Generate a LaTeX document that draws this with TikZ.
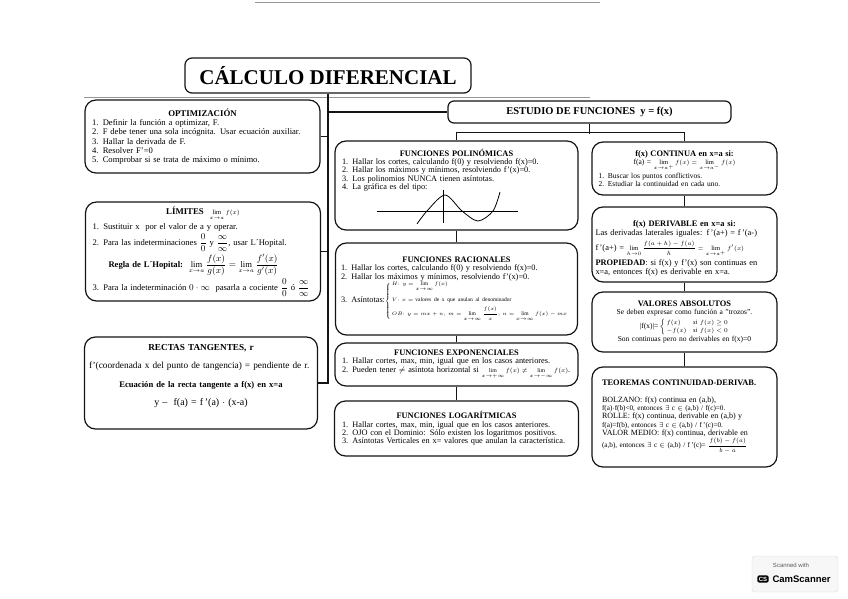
\documentclass[tikz,border=0pt]{standalone}
\usepackage{amsmath}
\usepackage{fontspec}
\setmainfont{Liberation Serif}
\newfontfamily\scanfont{Liberation Sans}
\usepackage{xcolor}
\definecolor{InkBlack}{RGB}{20,20,20}
\definecolor{ScanEdge}{RGB}{150,150,150}
\definecolor{MarkGray}{RGB}{90,90,90}
\newcommand{\ctr}[1]{\makebox[\linewidth]{#1}}
\newcommand{\hd}[1]{{\fontsize{8.4}{9}\selectfont\bfseries #1}}
\newcommand{\sm}[1]{{\fontsize{6.5}{7}\selectfont #1}}
\newcommand{\limsub}[1]{\lim\limits_{\rule{0pt}{4.2pt}#1}}
\tikzset{
  mapbox/.style={draw=InkBlack,line width=1.2pt,rounded corners=11pt,inner sep=0pt,align=left,
    font=\rmfamily\fontsize{8.6}{9.3}\selectfont},
  headbox/.style={draw=InkBlack,line width=1.2pt,rounded corners=6pt,inner sep=0pt,align=center},
  link/.style={draw=InkBlack,line width=1.5pt},
  scanedge/.style={draw=ScanEdge,line width=0.8pt}
}

\begin{document}
\begin{tikzpicture}[x=1pt,y=-1pt]
  \useasboundingbox (0,0) rectangle (848,599);
  % edges of the scanned sheet
  \draw[scanedge] (255,2) -- (600,2);
  \draw[scanedge] (84,97) -- (590,97);
  % title
  \node[headbox,rounded corners=7pt,minimum width=286pt,minimum height=35pt,
        font=\rmfamily\fontsize{21}{24}\selectfont\bfseries] (title) at (328,75.5) {CÁLCULO DIFERENCIAL};
  % estudio de funciones
  \node[headbox,minimum width=283pt,minimum height=22pt,
        font=\rmfamily\fontsize{10.5}{12}\selectfont\bfseries] (estudio) at (589.5,112) {ESTUDIO DE FUNCIONES\ \ y = f(x)};

  % left column
  \node[mapbox,minimum width=235pt,minimum height=73pt,text width=221pt] (optim) at (202.5,136.5) {
    \ctr{{\fontsize{8.8}{9}\selectfont\bfseries OPTIMIZACIÓN}}\\
    1. Definir la función a optimizar, F.\\
    2. F debe tener una sola incógnita. Usar ecuación auxiliar.\\
    3. Hallar la derivada de F.\\
    4. Resolver F'=0\\
    5. Comprobar si se trata de máximo o mínimo.
  };
  \node[mapbox,minimum width=235pt,minimum height=99pt,text width=221pt] (limites) at (203,251.5) {
    \ctr{{\fontsize{8.8}{9}\selectfont\bfseries LÍMITES}\ \ \sm{$\limsub{x\to a} f(x)$}}\\[2pt]
    1. Sustituir x\ \ por el valor de a y operar.\\[1pt]
    2. Para las indeterminaciones $\dfrac{0}{0}$ y $\dfrac{\infty}{\infty}$, usar L´Hopital.\\[2pt]
    \hspace*{16pt}\textbf{Regla de L´Hopital:}\ \ $\lim\limits_{x\to a}\dfrac{f(x)}{g(x)}=\lim\limits_{x\to a}\dfrac{f'(x)}{g'(x)}$\\[2pt]
    3. Para la indeterminación $0\cdot\infty$\ \ pasarla a cociente $\dfrac{0}{0}$ ó $\dfrac{\infty}{\infty}$
  };
  \node[mapbox,minimum width=233pt,minimum height=92pt,text width=224pt,
        font=\rmfamily\fontsize{9.3}{10.5}\selectfont] (rectas) at (201,383) {
    \ctr{{\fontsize{9.2}{10}\selectfont\bfseries RECTAS TANGENTES, r}}\\[8pt]
    f'(coordenada x del punto de tangencia) = pendiente de r.\\[8pt]
    \ctr{{\fontsize{8.6}{10}\selectfont\bfseries Ecuación de la recta tangente a f(x) en x=a}}\\[8pt]
    \ctr{\fontsize{10}{11}\selectfont y --\ \ f(a) = f\,'(a) $\cdot$ (x-a)\rule[-16pt]{0pt}{16pt}}
  };

  % middle column
  \node[mapbox,minimum width=243pt,minimum height=89pt,text width=229pt,
        font=\rmfamily\fontsize{8.3}{8.3}\selectfont] (polin) at (456.5,185.5) {
    \ctr{\hd{FUNCIONES POLINÓMICAS}}\\
    1. Hallar los cortes, calculando f(0) y resolviendo f(x)=0.\\
    2. Hallar los máximos y mínimos, resolviendo f'(x)=0.\\
    3. Los polinomios NUNCA tienen asíntotas.\\
    4. La gráfica es del tipo:\\
    \rule{0pt}{30pt}
  };
  \node[mapbox,minimum width=242pt,minimum height=92pt,text width=231pt,
        font=\rmfamily\fontsize{8.3}{8.6}\selectfont] (racion) at (456.5,289) {
    \ctr{\hd{FUNCIONES RACIONALES}}\\
    1. Hallar los cortes, calculando f(0) y resolviendo f(x)=0.\\
    2. Hallar los máximos y mínimos, resolviendo f'(x)=0.\\[-1pt]
    \mbox{3. Asíntotas:{\fontsize{5.5}{6.5}\selectfont$\left\{\,\begin{array}{@{}l@{}}
      H{:}\ y=\limsub{x\to\infty} f(x)\\[9pt]
      V{:}\ x=\text{valores de x que anulan al denominador}\\[4pt]
      OB{:}\ y=mx+n,\,m=\limsub{x\to\infty}\dfrac{f(x)}{x};\,n=\limsub{x\to\infty} f(x)-mx
    \end{array}\right.$}}
  };
  \node[mapbox,minimum width=243pt,minimum height=43pt,text width=229pt,
        font=\rmfamily\fontsize{8.3}{8.6}\selectfont] (expon) at (456.5,364.5) {
    \ctr{\hd{FUNCIONES EXPONENCIALES}}\\
    1. Hallar cortes, max, min, igual que en los casos anteriores.\\
    \mbox{2. Pueden tener $\neq$ asíntota horizontal si {\fontsize{5.8}{7}\selectfont$\limsub{x\to+\infty} f(x)\neq\limsub{x\to-\infty} f(x)$}.}
  };
  \node[mapbox,minimum width=244pt,minimum height=55pt,text width=229pt,
        font=\rmfamily\fontsize{8.3}{8.3}\selectfont] (logar) at (456.5,428.5) {
    \ctr{\hd{FUNCIONES LOGARÍTMICAS}}\\
    1. Hallar cortes, max, min, igual que en los casos anteriores.\\
    2. OJO con el Dominio: Sólo existen los logaritmos positivos.\\
    3. Asíntotas Verticales en x= valores que anulan la característica.
  };

  % right column
  \node[mapbox,minimum width=185pt,minimum height=53pt,text width=172pt,
        font=\rmfamily\fontsize{7.5}{7.8}\selectfont] (contin) at (684.5,168.5) {
    \ctr{\hd{f(x) CONTINUA en x=a si:}}\\
    \ctr{f(a) = \sm{$\limsub{x\to a^+} f(x)=\limsub{x\to a^-} f(x)$}}\\[1.5pt]
    1. Buscar los puntos conflictivos.\\
    2. Estudiar la continuidad en cada uno.
  };
  \node[mapbox,minimum width=185pt,minimum height=75pt,text width=178pt,
        font=\rmfamily\fontsize{8.4}{9}\selectfont] (deriv) at (684.5,244.5) {
    \ctr{\rule{0pt}{14pt}\hd{f(x) DERIVABLE en x=a si:}}\\
    Las derivadas laterales iguales: f\,'(a+) = f\,'(a-)\\[2pt]
    f\,'(a+) = \sm{$\limsub{h\to0}\dfrac{f(a+h)-f(a)}{h}=\limsub{x\to a^+} f'(x)$}\\[1.5pt]
    \textbf{PROPIEDAD}: si f(x) y f'(x) son continuas en\\
    x=a, entonces f(x) es derivable en x=a.
  };
  \node[mapbox,minimum width=185pt,minimum height=60pt,text width=178pt,
        font=\rmfamily\fontsize{7.5}{8.3}\selectfont] (absval) at (684.5,322) {
    \ctr{\hd{VALORES ABSOLUTOS}}\\
    \ctr{Se deben expresar como función a "trozos".}\\[2pt]
    \ctr{|f(x)|=\,\sm{$\left\{\,\begin{array}{@{}l@{\quad}l@{}} f(x) & \mathit{si}\ f(x)\ge 0\\[1pt] -f(x) & \mathit{si}\ f(x)<0\end{array}\right.$}}\\[0pt]
    \ctr{Son continuas pero no derivables en f(x)=0}
  };
  \node[mapbox,minimum width=185pt,minimum height=100pt,text width=165pt,
        font=\rmfamily\fontsize{7.2}{8.4}\selectfont] (teorem) at (684.5,417) {
    \hd{TEOREMAS CONTINUIDAD-DERIVAB.}\\[8pt]
    {\fontsize{8}{8.4}\selectfont BOLZANO: f(x) continua en (a,b),}\\
    f(a)$\cdot$f(b)<0, entonces $\exists$ c $\in$ (a,b) / f(c)=0.\\
    {\fontsize{8}{8.4}\selectfont ROLLE: f(x) continua, derivable en (a,b) y}\\
    f(a)=f(b), entonces $\exists$ c $\in$ (a,b) / f\,'(c)=0.\\
    {\fontsize{8}{8.4}\selectfont VALOR MEDIO: f(x) continua, derivable en}\\
    (a,b), entonces $\exists$ c $\in$ (a,b) / f\,'(c)= \sm{$\dfrac{f(b)-f(a)}{b-a}$}
  };

  % sketch of a polynomial
  \draw[line width=0.7pt] (377,211) -- (518,211);
  \draw[line width=0.7pt] (443,190) -- (443,223);
  \draw[line width=0.8pt] plot[smooth] coordinates {(417,224) (427,211) (445,195) (462,211) (478,221) (493,211) (500,192)};

  % connectors
  \draw[link] (title.south) -- (title.south |- rectas.east) -- (rectas.east);
  \draw[link] (optim.east) -- (optim.east -| title.south);
  \draw[link] (limites.east) -- (limites.east -| title.south);
  \draw[link] (estudio.west -| title.south) -- (estudio.west);
  \draw[link] (estudio.south) -- ++(0,10);
  \draw[link] (polin.north) -- ++(0,-8) -| (contin.north);
  \draw[link] (polin.south) -- (racion.north);
  \draw[link] (racion.south) -- (expon.north);
  \draw[link] (expon.south) -- (logar.north);
  \draw[link] (contin.south) -- (deriv.north);
  \draw[link] (deriv.south) -- (absval.north);
  \draw[link] (absval.south) -- (teorem.north);

  % scanner mark
  \draw[draw=gray!30,fill=gray!6,rounded corners=3pt] (752,556) rectangle (838,592);
  \node[font=\scanfont\fontsize{6}{7}\selectfont,text=MarkGray] (scanned) at (791,565) {Scanned with};
  \node[fill=black,text=white,rounded corners=2pt,inner sep=1.5pt,
        font=\scanfont\bfseries\fontsize{6}{7}\selectfont] (cslogo) at (763,579) {CS};
  \node[font=\scanfont\bfseries\fontsize{9.5}{11}\selectfont,anchor=west] (camscan) at (769,579) {CamScanner};
\end{tikzpicture}
\end{document}
